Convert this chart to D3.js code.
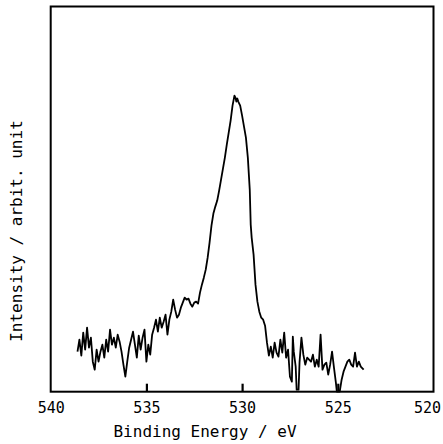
<!DOCTYPE html>
<html>
<head>
<meta charset="utf-8">
<script src="https://cdn.jsdelivr.net/npm/d3@7"></script>
<style>
  html, body { margin: 0; padding: 0; background: #fff; }
  svg { display: block; }
  text { font-family: "DejaVu Sans Mono", monospace; fill: #000; }
</style>
</head>
<body>
<svg id="chart" width="443" height="444"></svg>
<script>
// Binding energy (eV) and intensity (arbitrary units)
const bindingEnergy = [
  538.6, 538.5, 538.4, 538.3, 538.2, 538.1, 538.0, 537.9, 537.8, 537.7,
  537.6, 537.5, 537.4, 537.3, 537.2, 537.1, 537.0, 536.9, 536.8, 536.7,
  536.6, 536.5, 536.4, 536.3, 536.2, 536.1, 536.0, 535.9, 535.8, 535.7,
  535.6, 535.5, 535.4, 535.3, 535.2, 535.1, 535.0, 534.9, 534.8, 534.7,
  534.6, 534.5, 534.4, 534.3, 534.2, 534.1, 534.0, 533.9, 533.8, 533.7,
  533.6, 533.5, 533.4, 533.3, 533.2, 533.1, 533.0, 532.9, 532.8, 532.7,
  532.6, 532.5, 532.4, 532.3, 532.2, 532.1, 532.0,
  531.9, 531.8, 531.7, 531.6, 531.5, 531.4, 531.3, 531.2, 531.1, 531.0,
  530.9, 530.8, 530.7, 530.6, 530.5, 530.4, 530.35, 530.3, 530.25, 530.2,
  530.1, 530.0, 529.9, 529.8, 529.7, 529.6, 529.55, 529.5, 529.4, 529.3,
  529.2, 529.1, 529.0,
  528.9, 528.8, 528.7, 528.6, 528.5, 528.4, 528.3, 528.2, 528.1, 528.0,
  527.9, 527.8, 527.7, 527.6, 527.5, 527.4, 527.35, 527.3, 527.2, 527.15,
  527.05, 527.0, 526.9, 526.8, 526.7, 526.6, 526.5, 526.4, 526.3, 526.2,
  526.1, 526.0, 525.9, 525.8, 525.7, 525.6, 525.5, 525.4, 525.3, 525.2,
  525.1, 525.05, 524.9, 524.8, 524.7, 524.6, 524.5, 524.4, 524.3, 524.2,
  524.1, 524.0, 523.9, 523.8, 523.7, 523.65
];
const intensity = [
  40, 52, 36, 59, 42, 64, 44, 54, 30, 22,
  42, 30, 40, 47, 34, 52, 40, 62, 47, 54,
  44, 57, 50, 40, 27, 15, 30, 44, 52, 60,
  47, 34, 56, 42, 54, 62, 30, 47, 37, 57,
  64, 72, 60, 74, 64, 70, 77, 57, 72, 80,
  92, 82, 74, 77, 84, 89, 94, 92, 93, 88,
  85, 89, 90, 88, 99, 107, 114,
  122, 134, 149, 166, 178, 185, 191, 201, 212, 223,
  234, 247, 259, 271, 286, 296, 294, 290, 293, 290,
  286, 276, 265, 254, 234, 202, 167, 154, 137, 107,
  90, 80, 74,
  72, 66, 49, 36, 45, 34, 49, 39, 35, 52,
  39, 59, 34, 42, 15, 10, 55, 40, 25, 2,
  2, 29, 54, 37, 27, 34, 32, 30, 37, 25,
  32, 25, 57, 22, 27, 29, 17, 27, 40, 24,
  9, 0, 0, 12, 20, 25, 30, 32, 27, 25,
  39, 25, 30, 25, 23, 22
];
const xTickValues = [540, 535, 530, 525, 520];
const xTickMarks = [535, 530, 525];
const xTitle = "Binding Energy / eV";
const yTitle = "Intensity / arbit. unit";

const svg = d3.select("#chart");
const mLeft = 50.7, mRight = 433.5, mTop = 6.5, mBottom = 391.7;

const x = d3.scaleLinear().domain([540, 520]).range([mLeft, mRight]);
const y = d3.scaleLinear().domain([0, 385]).range([mBottom, mTop]);

const data = bindingEnergy.map((be, i) => ({ be, v: intensity[i] }));

// data line
const line = d3.line().x(d => x(d.be)).y(d => y(d.v));
svg.append("path")
  .datum(data)
  .attr("d", line)
  .attr("fill", "none")
  .attr("stroke", "#000")
  .attr("stroke-width", 1.8)
  .attr("stroke-linejoin", "round");

// inner tick marks on bottom axis
const axis = d3.axisBottom(x).tickValues(xTickMarks).tickSize(-8).tickFormat("");
const gAxis = svg.append("g").attr("transform", `translate(0,${mBottom})`).call(axis);
gAxis.select(".domain").remove();
gAxis.selectAll(".tick line").attr("stroke", "#000").attr("stroke-width", 2.2);

// tick labels
const labelAxis = d3.axisBottom(x).tickValues(xTickValues).tickSize(0).tickPadding(0).tickFormat(d3.format("d"));
const gLab = svg.append("g").attr("transform", `translate(0,${mBottom})`).call(labelAxis);
gLab.select(".domain").remove();
gLab.selectAll(".tick text")
  .attr("y", 21).attr("dy", null)
  .attr("dx", d => d === 520 ? -6.5 : 0)
  .style("font-family", "'DejaVu Sans Mono', monospace")
  .style("font-size", "15px")
  .attr("fill", "#000");

// frame
svg.append("rect")
  .attr("x", mLeft).attr("y", mTop)
  .attr("width", mRight - mLeft).attr("height", mBottom - mTop)
  .attr("fill", "none").attr("stroke", "#000").attr("stroke-width", 2);

// titles
svg.append("text")
  .attr("x", 205).attr("y", 437)
  .attr("text-anchor", "middle")
  .style("font-size", "16px")
  .text(xTitle);

svg.append("text")
  .attr("transform", "translate(22,231) rotate(-90)")
  .attr("text-anchor", "middle")
  .style("font-size", "16px")
  .text(yTitle);
</script>
</body>
</html>
